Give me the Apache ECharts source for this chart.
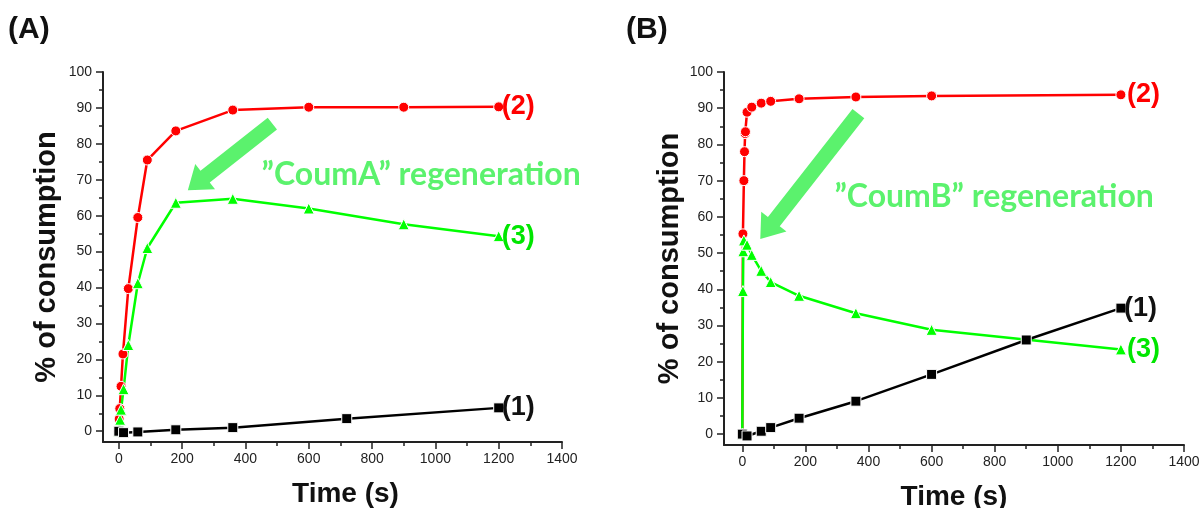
<!DOCTYPE html>
<html>
<head>
<meta charset="utf-8">
<script src="https://cdn.jsdelivr.net/npm/echarts@6/dist/echarts.min.js"></script>
<style>html,body{margin:0;padding:0;background:#fff;}#c{width:1201px;height:508px;}</style>
</head>
<body>
<div id="c"></div>
<script>
// ---- tick values ----
const xTicksMajor = [0, 200, 400, 600, 800, 1000, 1200, 1400];
const xTicksMinor = [100, 300, 500, 700, 900, 1100, 1300];
const yTicksMajor = [0, 10, 20, 30, 40, 50, 60, 70, 80, 90, 100];
const yTicksMinor = [5, 15, 25, 35, 45, 55, 65, 75, 85, 95];

// ---- panel A data ----
const timeA1 = [0, 15, 60, 180, 360, 720, 1200];
const valA1  = [0, -0.4, -0.2, 0.4, 1.0, 3.5, 6.5];
const timeA2 = [0, 1, 3, 7, 13, 30, 60, 90, 180, 360, 600, 900, 1200];
const valA2  = [0, 3.4, 6.3, 12.5, 21.5, 39.7, 59.5, 75.5, 83.6, 89.4, 90.2, 90.2, 90.3];
const timeA3 = [0, 2, 4, 7, 15, 30, 60, 90, 180, 360, 600, 900, 1200];
const valA3  = [0, 1.0, 3.2, 6.0, 11.7, 24.0, 41.2, 51.0, 63.6, 64.7, 62.0, 57.6, 54.3];

// ---- panel B data ----
const timeB1 = [0, 15, 60, 90, 180, 360, 600, 900, 1200];
const valB1  = [0, -0.5, 0.8, 1.8, 4.4, 9.1, 16.5, 26.0, 34.8];
const timeB2 = [0, 2, 5, 7, 9, 10, 15, 30, 60, 90, 180, 360, 600, 1200];
const valB2  = [0, 55.3, 70.0, 78.0, 83.0, 83.5, 88.9, 90.3, 91.4, 91.9, 92.6, 93.1, 93.4, 93.7];
const timeB3 = [0, 2, 3, 5, 15, 30, 60, 90, 180, 360, 600, 1200];
const valB3  = [0, 39.5, 50.5, 53.5, 52.3, 49.5, 45.1, 42.0, 38.2, 33.4, 28.8, 23.4];

const seriesLabels = ['(1)', '(2)', '(3)'];
const annotA = '\u201DCoumA\u201D regeneration';
const annotB = '\u201DCoumB\u201D regeneration';

const AXC = '#222';
const FONT = 'Liberation Sans, Arial, sans-serif';
const RED = '#ff0000', GREEN = '#00ff00', BLACK = '#000000', LG = '#5bf26d';

function zip(t, v) { return t.map((x, i) => [x, v[i]]); }
const plain = v => String(v);

function xAxes(grid, min) {
  return [
    { gridIndex: grid, type: 'value', min: min, max: 1400, position: 'bottom',
      axisLine: { show: true, onZero: false, lineStyle: { color: AXC, width: 2 } },
      axisTick: { show: true, customValues: xTicksMajor, length: 7, lineStyle: { color: AXC, width: 1.5 } },
      axisLabel: { show: true, customValues: xTicksMajor, formatter: plain, fontSize: 14, color: AXC, fontFamily: FONT, margin: 10 },
      splitLine: { show: false },
      name: 'Time (s)', nameLocation: 'middle', nameGap: 38,
      nameTextStyle: { fontSize: 28, fontWeight: 'bold', color: '#111', fontFamily: FONT,
                       padding: grid === 0 ? [0, 0, 0, 26] : 0 } },
    { gridIndex: grid, type: 'value', min: min, max: 1400, position: 'bottom',
      axisLine: { show: false, onZero: false },
      axisTick: { show: true, customValues: xTicksMinor, length: 4, lineStyle: { color: AXC, width: 1.5 } },
      axisLabel: { show: false }, splitLine: { show: false } }
  ];
}
function yAxes(grid, gap) {
  return [
    { gridIndex: grid, type: 'value', min: -3, max: 100, position: 'left',
      axisLine: { show: true, onZero: false, lineStyle: { color: AXC, width: 2 } },
      axisTick: { show: true, customValues: yTicksMajor, length: 7, lineStyle: { color: AXC, width: 1.5 } },
      axisLabel: { show: true, customValues: yTicksMajor, formatter: plain, fontSize: 14, color: AXC, fontFamily: FONT, margin: 11 },
      splitLine: { show: false },
      name: '% of consumption', nameLocation: 'middle', nameGap: gap,
      nameTextStyle: { fontSize: 29, fontWeight: 'bold', color: '#111', fontFamily: FONT } },
    { gridIndex: grid, type: 'value', min: -3, max: 100, position: 'left',
      axisLine: { show: false, onZero: false },
      axisTick: { show: true, customValues: yTicksMinor, length: 4, lineStyle: { color: AXC, width: 1.5 } },
      axisLabel: { show: false }, splitLine: { show: false } }
  ];
}

function mkSeries(axis, data, color, symbol, label, labelColor, dist) {
  return {
    type: 'line', xAxisIndex: axis, yAxisIndex: axis, data: data,
    symbol: symbol, symbolSize: symbol === 'triangle' ? 11 : 10,
    showAllSymbol: true, clip: false,
    lineStyle: { color: color, width: 2.5 },
    itemStyle: { color: color, borderColor: '#fff', borderWidth: 1 },
    emphasis: { disabled: true },
    endLabel: { show: true, formatter: label, distance: dist, fontSize: 27, fontWeight: 'bold',
                fontFamily: FONT, color: labelColor, align: 'left', verticalAlign: 'middle' }
  };
}

const chart = echarts.init(document.getElementById('c'), null, { renderer: 'canvas' });
const option = {
  animation: false,
  backgroundColor: '#fff',
  title: [
    { text: '(A)', left: 8, top: 15, padding: 0, textStyle: { fontSize: 30, fontWeight: 'bold', fontFamily: FONT, color: '#111' } },
    { text: '(B)', left: 626, top: 15, padding: 0, textStyle: { fontSize: 30, fontWeight: 'bold', fontFamily: FONT, color: '#111' } }
  ],
  grid: [
    { left: 103, top: 72, width: 459, height: 370, containLabel: false, outerBoundsMode: 'none' },
    { left: 724, top: 72, width: 460, height: 373, containLabel: false, outerBoundsMode: 'none' }
  ],
  xAxis: xAxes(0, -50).concat(xAxes(1, -58)),
  yAxis: yAxes(0, 42).concat(yAxes(1, 40)),
  series: [
    mkSeries(0, zip(timeA2, valA2), RED, 'circle', seriesLabels[1], RED, 3),
    mkSeries(0, zip(timeA3, valA3), GREEN, 'triangle', seriesLabels[2], '#00e600', 3),
    mkSeries(0, zip(timeA1, valA1), BLACK, 'rect', seriesLabels[0], '#111', 3),
    mkSeries(2, zip(timeB2, valB2), RED, 'circle', seriesLabels[1], RED, 6),
    mkSeries(2, zip(timeB3, valB3), GREEN, 'triangle', seriesLabels[2], '#00e600', 6),
    mkSeries(2, zip(timeB1, valB1), BLACK, 'rect', seriesLabels[0], '#111', 3)
  ]
};
chart.setOption(option);

// ---- annotation arrows and texts, placed in data coordinates ----
function px(axis, p) { return chart.convertToPixel({ xAxisIndex: axis, yAxisIndex: axis }, p); }
function arrowPts(tail, tip, w, h, L) {
  const dx = tip[0] - tail[0], dy = tip[1] - tail[1];
  const len = Math.sqrt(dx * dx + dy * dy);
  const ux = dx / len, uy = dy / len, nx = -uy, ny = ux;
  const bx = tip[0] - ux * L, by = tip[1] - uy * L;
  return [
    [tail[0] + nx * w, tail[1] + ny * w],
    [bx + nx * w, by + ny * w],
    [bx + nx * h, by + ny * h],
    tip,
    [bx - nx * h, by - ny * h],
    [bx - nx * w, by - ny * w],
    [tail[0] - nx * w, tail[1] - ny * w]
  ];
}
const arrowA = { tail: [485, 85.6], tip: [218, 67.1] };
const arrowB = { tail: [368, 88.5], tip: [57, 53.9] };
const textA = [451, 71.4];
const textB = [292, 65.6];

const pA = px(0, textA), pB = px(2, textB);
chart.setOption({
  graphic: [
    { type: 'polygon', shape: { points: arrowPts(px(0, arrowA.tail), px(0, arrowA.tip), 7.5, 16, 22) }, style: { fill: LG }, z: 5 },
    { type: 'polygon', shape: { points: arrowPts(px(2, arrowB.tail), px(2, arrowB.tip), 7.5, 16, 22) }, style: { fill: LG }, z: 5 },
    { type: 'text', x: pA[0], y: pA[1], style: { text: annotA, fill: LG, font: 'bold 32px Lato, sans-serif', textAlign: 'left', textVerticalAlign: 'middle' }, z: 5 },
    { type: 'text', x: pB[0], y: pB[1], style: { text: annotB, fill: LG, font: 'bold 32px Lato, sans-serif', textAlign: 'left', textVerticalAlign: 'middle' }, z: 5 }
  ]
});
</script>
</body>
</html>
